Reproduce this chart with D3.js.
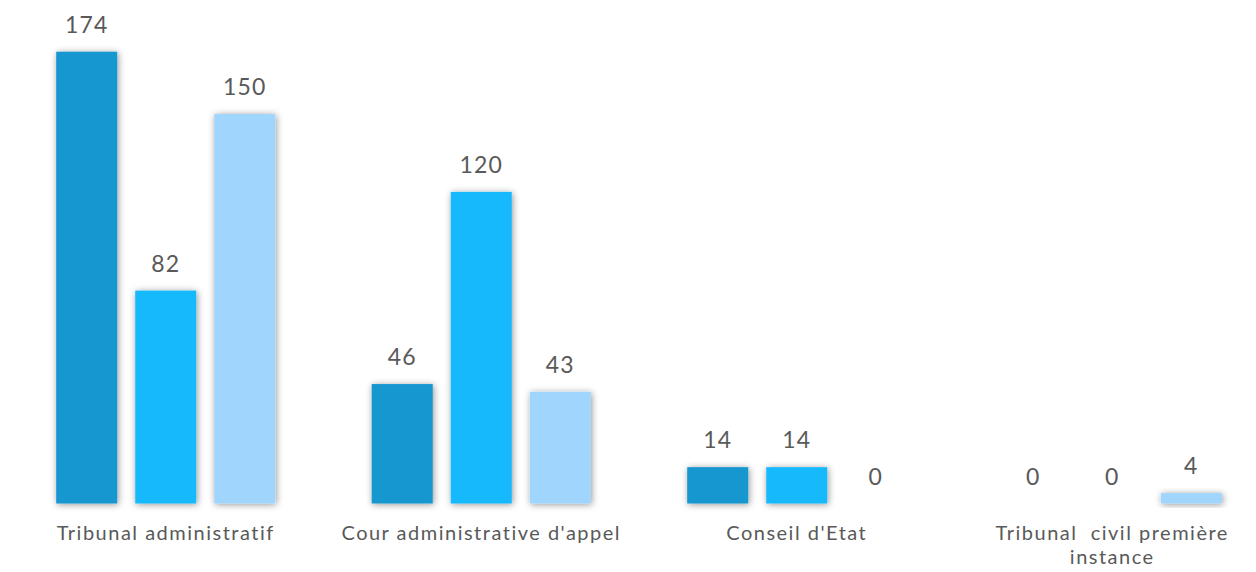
<!DOCTYPE html>
<html>
<head>
<meta charset="utf-8">
<script src="https://cdn.jsdelivr.net/npm/d3@7"></script>
<style>
  html, body { margin: 0; padding: 0; background: #ffffff; }
  svg { display: block; }
  text { font-family: Lato, "Noto Sans", sans-serif; fill: #595959; }
</style>
</head>
<body>
<svg id="chart" width="1256" height="572"></svg>
<script>
const categories = ["Tribunal administratif", "Cour administrative d'appel", "Conseil d'Etat", "Tribunal  civil première instance"];
const seriesNames = ["Série 1", "Série 2", "Série 3"];
const series1 = [174, 46, 14, 0];
const series2 = [82, 120, 14, 0];
const series3 = [150, 43, 0, 4];
const seriesColors = ["#1497CF", "#19B9FC", "#A0D5FD"];

const seriesValues = [series1, series2, series3];
const data = categories.map((c, i) => ({
  category: c,
  values: seriesNames.map((s, j) => ({ series: s, value: seriesValues[j][i], color: seriesColors[j] }))
}));

const svg = d3.select("#chart");
const defs = svg.append("defs");
const f = defs.append("filter").attr("id", "glow").attr("x", "-40%").attr("y", "-40%").attr("width", "180%").attr("height", "180%");
f.append("feDropShadow").attr("dx", 1).attr("dy", 1).attr("stdDeviation", 3.5)
  .attr("flood-color", "#000").attr("flood-opacity", 0.42);

const x0 = d3.scaleBand().domain(categories).range([8, 1270]).paddingInner(0).paddingOuter(0);
const x1 = d3.scaleBand().domain(seriesNames).range([0, x0.bandwidth()]).paddingInner(0.228).paddingOuter(0.61);
const y = d3.scaleLinear().domain([0, 174]).range([503.5, 51.7]);

const groups = svg.append("g").selectAll("g").data(data).join("g")
  .attr("transform", d => `translate(${x0(d.category)},0)`);

groups.selectAll("rect").data(d => d.values.filter(v => v.value > 0)).join("rect")
  .attr("x", d => x1(d.series))
  .attr("width", x1.bandwidth())
  .attr("y", d => y(d.value))
  .attr("height", d => y(0) - y(d.value))
  .attr("fill", d => d.color)
  .attr("filter", "url(#glow)");

groups.selectAll("text.val").data(d => d.values).join("text")
  .attr("class", "val")
  .attr("x", d => x1(d.series) + x1.bandwidth() / 2)
  .attr("y", d => y(d.value) - 19)
  .attr("text-anchor", "middle")
  .style("font-size", "23px")
  .style("letter-spacing", "1.2px")
  .text(d => d.value);

// axis line
const axis = d3.axisBottom(x0).tickSize(0).tickPadding(0);
const axisG = svg.append("g").attr("transform", `translate(0,${504.5})`).call(axis);
axisG.select(".domain").attr("d", "M8,0H1256").attr("stroke", "#8c8c8c").attr("stroke-width", 2.2)
  .attr("filter", "url(#glow)");
axisG.selectAll(".tick text").remove();

// category labels with wrapping
const labelG = svg.append("g");
categories.forEach(c => {
  const cx = x0(c) + x0.bandwidth() / 2;
  const t = labelG.append("text")
    .attr("x", cx)
    .attr("y", 540)
    .attr("text-anchor", "middle")
    .style("font-size", "20px")
    .style("letter-spacing", "1.5px")
    .style("white-space", "pre")
    .attr("xml:space", "preserve");
  const words = c.split(" ");
  let line = [];
  let tspan = t.append("tspan").attr("x", cx).attr("dy", 0);
  const maxW = x0.bandwidth() - 20;
  words.forEach(w => {
    line.push(w);
    tspan.text(line.join(" "));
    if (tspan.node().getComputedTextLength() > maxW && line.length > 1) {
      line.pop();
      tspan.text(line.join(" "));
      line = [w];
      tspan = t.append("tspan").attr("x", cx).attr("dy", 24).text(w);
    }
  });
});
</script>
</body>
</html>
